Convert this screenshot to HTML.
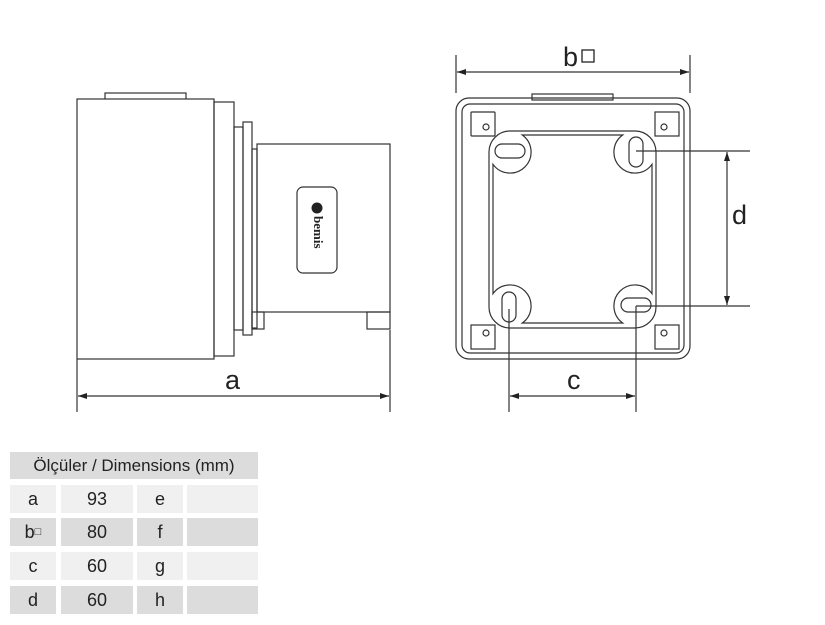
<!DOCTYPE html>
<html><head><meta charset="utf-8"><style>
html,body{margin:0;padding:0;background:#fff;}
body{width:825px;height:625px;position:relative;overflow:hidden;font-family:"Liberation Sans",sans-serif;}
.c{position:absolute;display:flex;align-items:center;justify-content:center;font-size:18px;color:#222;}
</style></head><body>
<svg width="825" height="625" style="position:absolute;left:0;top:0" xmlns="http://www.w3.org/2000/svg">
<defs>
<marker id="ar" markerWidth="10" markerHeight="8" refX="9" refY="4" orient="auto-start-reverse" markerUnits="userSpaceOnUse"><path d="M0,1 L9,4 L0,7 Z" fill="#222"/></marker>
</defs>
<g fill="none" stroke="#333" stroke-width="1.2">
<!-- side view -->
<rect x="105" y="93" width="81" height="7" fill="#fff"/>
<rect x="77" y="99" width="137" height="260" fill="#fff"/>
<rect x="214" y="102" width="20" height="254"/>
<rect x="234" y="127" width="9" height="203"/>
<rect x="243" y="122" width="9" height="213"/>
<rect x="252" y="149" width="5" height="179"/>
<rect x="257" y="144" width="133" height="168"/>
<rect x="252" y="312" width="12" height="17"/>
<rect x="367" y="312" width="23" height="17"/>
<rect x="297" y="187" width="40" height="86" rx="6"/>
<line x1="77" y1="359" x2="77" y2="412"/>
<line x1="390" y1="330" x2="390" y2="412"/>
<line x1="78" y1="396" x2="389" y2="396" marker-start="url(#ar)" marker-end="url(#ar)"/>
<!-- front view -->
<rect x="532" y="94" width="81" height="6" fill="#fff"/>
<rect x="456" y="98" width="234" height="261" rx="13"/>
<rect x="462" y="104" width="222" height="249" rx="8"/>
<rect x="471" y="112" width="24" height="24" rx="1"/><circle cx="486" cy="127" r="3"/>
<rect x="655" y="112" width="24" height="24"/><circle cx="664" cy="127" r="3"/>
<rect x="471" y="325" width="24" height="24"/><circle cx="486" cy="333" r="3"/>
<rect x="655" y="325" width="24" height="24"/><circle cx="664" cy="333" r="3"/>
<rect x="489" y="131" width="167" height="197" rx="21"/>
<path d="M522.3,135 L622.7,135 A21,21 0 1 0 652,164.3 L652,293.7 A21,21 0 1 0 622.7,323 L522.3,323 A21,21 0 1 0 493,293.7 L493,164.3 A21,21 0 1 0 522.3,135 Z"/>
<rect x="495" y="144" width="30" height="14" rx="7"/>
<rect x="629" y="137" width="14" height="30" rx="7"/>
<rect x="502" y="292" width="14" height="30" rx="7"/>
<rect x="621" y="298" width="30" height="14" rx="7"/>
<line x1="456" y1="55" x2="456" y2="93"/>
<line x1="690" y1="55" x2="690" y2="93"/>
<line x1="457" y1="72" x2="689" y2="72" marker-start="url(#ar)" marker-end="url(#ar)"/>
<line x1="636" y1="151" x2="750" y2="151"/>
<line x1="636" y1="306" x2="750" y2="306"/>
<line x1="727" y1="152" x2="727" y2="305" marker-start="url(#ar)" marker-end="url(#ar)"/>
<line x1="509" y1="309" x2="509" y2="412"/>
<line x1="636" y1="306" x2="636" y2="412"/>
<line x1="510" y1="396" x2="635" y2="396" marker-start="url(#ar)" marker-end="url(#ar)"/>
</g>
<circle cx="317" cy="208" r="5.5" fill="#222"/>
<g transform="translate(317,216) rotate(90)">
<text x="0" y="0" font-family="Liberation Serif" font-weight="bold" font-size="13" fill="#222" dominant-baseline="middle">bemis</text>
</g>
<g font-family="Liberation Sans" font-size="27" fill="#222">
<text x="225" y="389">a</text>
<text x="567" y="389">c</text>
<text x="732" y="224">d</text>
<text x="563" y="66">b</text>
</g>
<rect x="582" y="50" width="12" height="12" fill="none" stroke="#222" stroke-width="1.3"/>
</svg>
<div class="c" style="left:10px;top:452px;width:248px;height:27px;background:#dcdcdc;font-size:17px;">Ölçüler / Dimensions (mm)</div>
<div class="c" style="left:10px;top:485px;width:46px;height:28px;background:#f0f0f0">a</div>
<div class="c" style="left:61px;top:485px;width:72px;height:28px;background:#f0f0f0">93</div>
<div class="c" style="left:137px;top:485px;width:46px;height:28px;background:#f0f0f0">e</div>
<div class="c" style="left:187px;top:485px;width:71px;height:28px;background:#f0f0f0"></div>
<div class="c" style="left:10px;top:518px;width:46px;height:28px;background:#dcdcdc">b<span style="font-size:11px">□</span></div>
<div class="c" style="left:61px;top:518px;width:72px;height:28px;background:#dcdcdc">80</div>
<div class="c" style="left:137px;top:518px;width:46px;height:28px;background:#dcdcdc">f</div>
<div class="c" style="left:187px;top:518px;width:71px;height:28px;background:#dcdcdc"></div>
<div class="c" style="left:10px;top:552px;width:46px;height:28px;background:#f0f0f0">c</div>
<div class="c" style="left:61px;top:552px;width:72px;height:28px;background:#f0f0f0">60</div>
<div class="c" style="left:137px;top:552px;width:46px;height:28px;background:#f0f0f0">g</div>
<div class="c" style="left:187px;top:552px;width:71px;height:28px;background:#f0f0f0"></div>
<div class="c" style="left:10px;top:586px;width:46px;height:28px;background:#dcdcdc">d</div>
<div class="c" style="left:61px;top:586px;width:72px;height:28px;background:#dcdcdc">60</div>
<div class="c" style="left:137px;top:586px;width:46px;height:28px;background:#dcdcdc">h</div>
<div class="c" style="left:187px;top:586px;width:71px;height:28px;background:#dcdcdc"></div>
</body></html>
